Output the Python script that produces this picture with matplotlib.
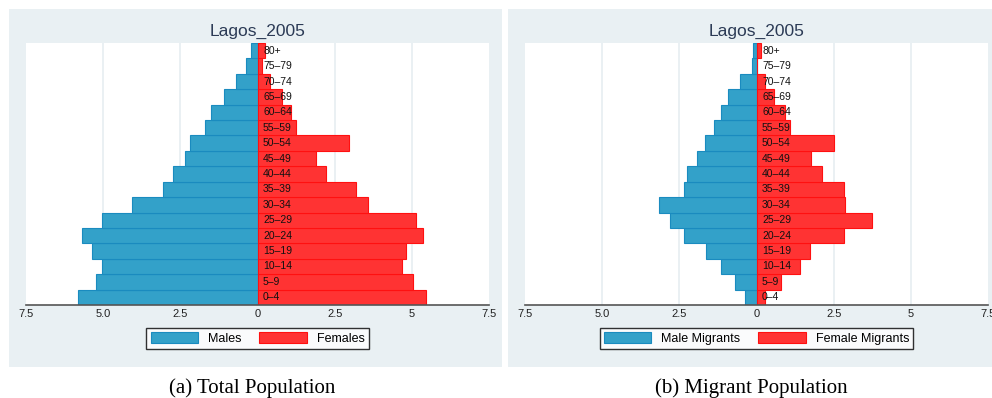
import matplotlib.pyplot as plt
from matplotlib.patches import Rectangle

# Data
age_groups = ['0–4', '5–9', '10–14', '15–19', '20–24', '25–29', '30–34', '35–39',
              '40–44', '45–49', '50–54', '55–59', '60–64', '65–69', '70–74', '75–79', '80+']
males = [5.80, 5.23, 5.03, 5.37, 5.68, 5.04, 4.07, 3.07, 2.75, 2.35, 2.18, 1.70, 1.51, 1.09, 0.71, 0.36, 0.22]
females = [5.45, 5.04, 4.67, 4.81, 5.35, 5.13, 3.59, 3.20, 2.22, 1.89, 2.95, 1.24, 1.09, 0.78, 0.40, 0.13, 0.24]
male_migrants = [0.38, 0.70, 1.15, 1.62, 2.35, 2.81, 3.16, 2.35, 2.26, 1.93, 1.67, 1.38, 1.15, 0.92, 0.52, 0.16, 0.12]
female_migrants = [0.28, 0.78, 1.41, 1.73, 2.84, 3.75, 2.87, 2.84, 2.13, 1.77, 2.51, 1.09, 0.92, 0.58, 0.27, 0.03, 0.15]

tick_values = [-7.5, -5, -2.5, 0, 2.5, 5, 7.5]
tick_labels = ['7.5', '5.0', '2.5', '0', '2.5', '5', '7.5']

W, H = 992, 398
bg = '#e9f0f3'
blue, blue_edge = '#33a1c9', '#1a8bbf'
red, red_edge = '#ff3333', '#ff1010'

fig = plt.figure(figsize=(W / 100, H / 100), dpi=100)
plt.rcParams['font.family'] = ['Liberation Sans', 'DejaVu Sans']

panels = [
    dict(bg=(9, 9, 502, 367), ax=(26, 43, 489, 305), male=males, female=females,
         labels=('Males', 'Females'), caption='(a) Total Population', cap_x=252),
    dict(bg=(508, 9, 1000, 367), ax=(525, 43, 988, 305), male=male_migrants, female=female_migrants,
         labels=('Male Migrants', 'Female Migrants'), caption='(b) Migrant Population', cap_x=751),
]

for p in panels:
    x0, y0, x1, y1 = p['bg']
    fig.add_artist(Rectangle((x0 / W, 1 - y1 / H), (x1 - x0) / W, (y1 - y0) / H,
                             transform=fig.transFigure, facecolor=bg, edgecolor='none', zorder=0))
    a0, b0, a1, b1 = p['ax']
    ax = fig.add_axes([a0 / W, 1 - b1 / H, (a1 - a0) / W, (b1 - b0) / H])
    ax.set_facecolor('white')
    y = range(len(age_groups))
    hm = ax.barh(y, [-v for v in p['male']], height=1.0, color=blue, edgecolor=blue_edge,
                 linewidth=0.8, label=p['labels'][0], zorder=2)
    hf = ax.barh(y, p['female'], height=1.0, color=red, edgecolor=red_edge,
                 linewidth=0.8, label=p['labels'][1], zorder=2)
    for i, lab in enumerate(age_groups):
        ax.text(0.18, i, lab, ha='left', va='center', fontsize=7.5, color='#111111', zorder=3)
    ax.set_xlim(-7.5, 7.5)
    ax.set_ylim(-0.5, len(age_groups) - 0.5)
    ax.set_xticks(tick_values)
    ax.set_xticklabels(tick_labels, fontsize=8, color='#222222')
    ax.tick_params(axis='x', length=0, pad=3)
    ax.set_yticks([])
    for v in [-5, -2.5, 2.5, 5]:
        ax.axvline(v, color='#e6eef1', linewidth=1.2, zorder=1)
    for s in ['top', 'left', 'right']:
        ax.spines[s].set_visible(False)
    ax.spines['bottom'].set_color('#555555')
    ax.spines['bottom'].set_linewidth(1.2)
    ax.set_title('Lagos_2005', fontsize=12.5, color='#2b3a55', pad=5)
    leg = fig.legend(handles=[hm, hf], loc='center', ncol=2,
                     bbox_to_anchor=(((a0 + a1) / 2) / W, 1 - 338.5 / H),
                     fontsize=9, frameon=True, fancybox=False, edgecolor='black',
                     handlelength=3.8, handleheight=1.0, handletextpad=0.8,
                     columnspacing=1.4, borderpad=0.35)
    leg.get_frame().set_linewidth(1.0)
    fig.text(p['cap_x'] / W, 1 - 388 / H, p['caption'], ha='center', va='center',
             fontsize=15, family=['Liberation Serif', 'DejaVu Serif'])

fig.savefig('out.png', dpi=100)
